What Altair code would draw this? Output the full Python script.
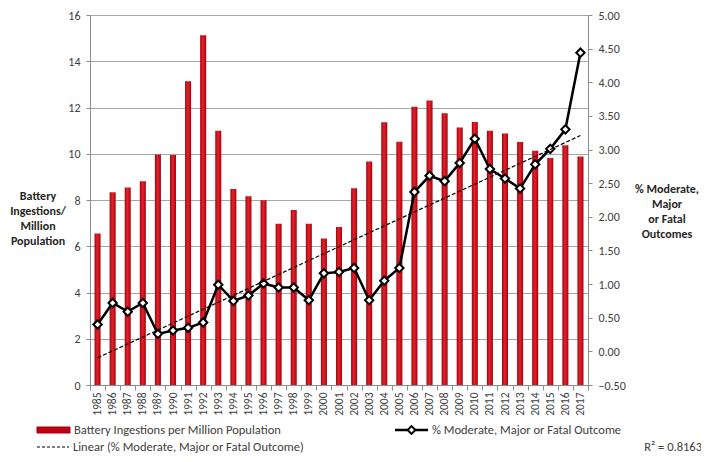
import altair as alt
import pandas as pd

years = list(range(1985, 2018))
ingestions = [6.55, 8.34, 8.54, 8.81, 9.97, 9.95, 13.13, 15.12, 10.99, 8.48, 8.16, 7.99,
              6.97, 7.57, 6.97, 6.33, 6.83, 8.51, 9.67, 11.36, 10.52, 12.03, 12.3, 11.75,
              11.13, 11.37, 11.0, 10.88, 10.51, 10.13, 9.82, 10.37, 9.88]
pct_outcome = [0.40, 0.72, 0.59, 0.72, 0.26, 0.31, 0.35, 0.43, 0.99, 0.75, 0.83, 1.01,
               0.95, 0.95, 0.76, 1.16, 1.18, 1.24, 0.76, 1.05, 1.24, 2.37, 2.61, 2.53,
               2.80, 3.16, 2.71, 2.57, 2.42, 2.78, 3.01, 3.30, 4.44]
left_ticks = [0, 2, 4, 6, 8, 10, 12, 14, 16]
right_ticks = [-0.5, 0.0, 0.5, 1.0, 1.5, 2.0, 2.5, 3.0, 3.5, 4.0, 4.5, 5.0]

bar_label = "Battery Ingestions per Million Population"
line_label = "% Moderate, Major or Fatal Outcome"
trend_label = "Linear (% Moderate, Major or Fatal Outcome)"
r2_label = "R² = 0.8163"

FONT = "Carlito, Liberation Sans, Arial, sans-serif"
LABEL_COLOR = "#404040"
AXIS_COLOR = "#8C8C8C"

df = pd.DataFrame({"Year": years, "Ingestions": ingestions, "Pct": pct_outcome})

base = alt.Chart(df)

x_enc = alt.X(
    "Year:O",
    scale=alt.Scale(paddingInner=0, paddingOuter=0),
    axis=alt.Axis(
        title=None, labelAngle=270, labelFontSize=11.5, labelColor=LABEL_COLOR,
        labelFont=FONT, tickBand="extent", tickSize=5, labelPadding=2,
        domainColor=AXIS_COLOR, tickColor=AXIS_COLOR, grid=False,
    ),
)

bars = base.mark_bar(
    width=alt.RelativeBandSize(0.4),
    color=alt.Gradient(
        gradient="linear", x1=0, x2=1, y1=0, y2=0,
        stops=[alt.GradientStop(offset=0, color="#A8000C"),
               alt.GradientStop(offset=0.45, color="#E0242C"),
               alt.GradientStop(offset=1, color="#A8000C")],
    ),
).encode(
    x=x_enc,
    y=alt.Y(
        "Ingestions:Q",
        scale=alt.Scale(domain=[0, 16], nice=False, zero=True),
        axis=alt.Axis(
            title=None, orient="left", values=left_ticks, grid=True,
            gridColor="#A6A6A6", gridWidth=1, labelFontSize=12,
            labelColor=LABEL_COLOR, labelFont=FONT, tickSize=4, labelPadding=6,
            domainColor=AXIS_COLOR, tickColor=AXIS_COLOR,
        ),
    ),
)

line = base.mark_line(
    color="black", strokeWidth=2.5,
    point=alt.OverlayMarkDef(shape="diamond", filled=True, fill="white",
                             stroke="black", strokeWidth=2, size=70, opacity=1),
).encode(
    x=alt.X("Year:O"),
    y=alt.Y(
        "Pct:Q",
        scale=alt.Scale(domain=[-0.5, 5.0], nice=False, zero=False),
        axis=alt.Axis(
            title=None, orient="right", values=right_ticks, format=".2f", grid=False,
            labelFontSize=12, labelColor=LABEL_COLOR, labelFont=FONT, tickSize=4,
            labelPadding=6, domainColor=AXIS_COLOR, tickColor=AXIS_COLOR,
        ),
    ),
)

trend = base.transform_regression("Year", "Pct", method="linear").mark_line(
    color="black", strokeWidth=1.2, strokeDash=[4, 2]
).encode(
    x=alt.X("Year:O"),
    y=alt.Y("Pct:Q", scale=alt.Scale(domain=[-0.5, 5.0], nice=False, zero=False), axis=None),
)

one = alt.Data(values=[{"a": 1}])


def txt(text, x, y, align="left", bold=False, size=12, color=LABEL_COLOR, lh=15):
    return alt.Chart(one).mark_text(
        align=align, baseline="middle", font=FONT, fontSize=size,
        fontWeight="bold" if bold else "normal", color=color,
        lineBreak="\n", lineHeight=lh,
    ).encode(x=alt.value(x), y=alt.value(y), text=alt.value(text))


left_title = txt("Battery\nIngestions/\nMillion\nPopulation", -52, 181, align="center",
                 bold=True, size=12, color="#262626")
right_title = txt("% Moderate,\nMajor\nor Fatal\nOutcomes", 577, 174, align="center",
                  bold=True, size=12, color="#262626")

bar_swatch = alt.Chart(one).mark_rect(color="#C00010", stroke="#A0000C").encode(
    x=alt.value(-53), x2=alt.value(-20), y=alt.value(412), y2=alt.value(418)
)
bar_text = txt(bar_label, -16, 415, size=12.5)

line_swatch = alt.Chart(one).mark_rule(color="black", strokeWidth=2.5).encode(
    x=alt.value(305), x2=alt.value(338), y=alt.value(415)
)
line_swatch_pt = alt.Chart(one).mark_point(
    shape="diamond", filled=True, fill="white", stroke="black", strokeWidth=2, size=60, opacity=1
).encode(x=alt.value(321.5), y=alt.value(415))
line_text = txt(line_label, 342, 415, size=12.5)

trend_swatch = alt.Chart(one).mark_rule(color="black", strokeWidth=1.2, strokeDash=[3, 2]).encode(
    x=alt.value(-53), x2=alt.value(-21), y=alt.value(432)
)
trend_text = txt(trend_label, -17, 432, size=12.5)

r2_text = txt(r2_label, 612, 432, align="right", size=12.5)

chart = alt.layer(
    bars, line, trend,
    left_title, right_title,
    bar_swatch, bar_text, line_swatch, line_swatch_pt, line_text,
    trend_swatch, trend_text, r2_text,
).resolve_scale(y="independent").properties(
    width=498, height=370,
    autosize=alt.AutoSizeParams(type="none"),
    padding={"left": 82, "top": 7, "right": 113, "bottom": 68},
    background="white",
).configure_view(stroke=None)

chart.save("out.html", embed_options={"renderer": "svg", "actions": False})
